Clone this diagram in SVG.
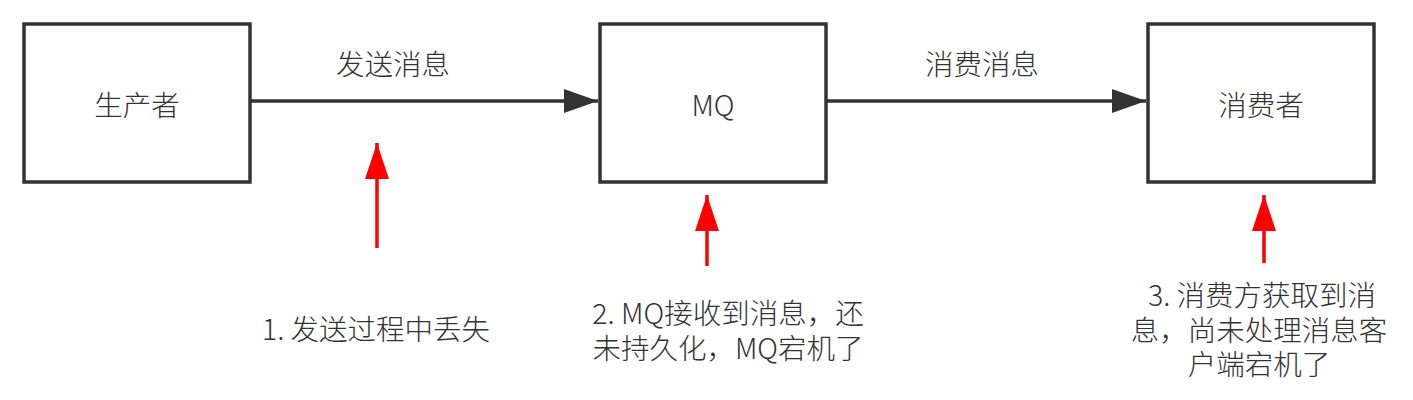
<svg xmlns="http://www.w3.org/2000/svg" width="1413" height="400" viewBox="0 0 1413 400">
<defs>
<style>
.box{fill:#fff;stroke:#333;stroke-width:3.5}
.t{font-family:"Noto Sans CJK SC","Noto Sans",sans-serif;font-size:28.5px;font-weight:300;fill:#333;text-anchor:middle;dominant-baseline:central}
.conn{stroke:#333;stroke-width:3.5;fill:none}
.red{stroke:#ff0000;stroke-width:3.5;fill:none}
</style>
<marker id="ah" viewBox="0 0 34 24" refX="34" refY="12" markerWidth="34" markerHeight="24" markerUnits="userSpaceOnUse" orient="auto">
<path d="M0,0 L34,12 L0,24 Z" fill="#333"/>
</marker>
<marker id="rh" viewBox="0 0 36 24" refX="36" refY="12" markerWidth="36" markerHeight="24" markerUnits="userSpaceOnUse" orient="auto">
<path d="M0,0 L36,12 L0,24 Z" fill="#ff0000"/>
</marker>
</defs>
<rect width="1413" height="400" fill="#fff"/>
<g id="producer">
<rect class="box" x="24" y="24" width="226" height="158"/>
<text class="t" x="137" y="103">生产者</text>
</g>
<g id="mq">
<rect class="box" x="600" y="24" width="226" height="158"/>
<text class="t" x="713" y="103">MQ</text>
</g>
<g id="consumer">
<rect class="box" x="1148" y="24" width="226" height="158"/>
<text class="t" x="1261" y="103">消费者</text>
</g>
<g id="connectors">
<line class="conn" x1="250" y1="101" x2="598" y2="101" marker-end="url(#ah)"/>
<text class="t" x="393" y="62">发送消息</text>
<line class="conn" x1="826" y1="101" x2="1146" y2="101" marker-end="url(#ah)"/>
<text class="t" x="982" y="62">消费消息</text>
<line class="red" x1="377" y1="248" x2="377" y2="143" marker-end="url(#rh)"/>
<line class="red" x1="707" y1="266" x2="707" y2="195" marker-end="url(#rh)"/>
<line class="red" x1="1264" y1="263" x2="1264" y2="195" marker-end="url(#rh)"/>
</g>
<g id="note1">
<text class="t" x="376" y="327">1. 发送过程中丢失</text>
</g>
<g id="note2">
<text class="t" x="728" y="311">2. MQ接收到消息，还</text>
<text class="t" x="728" y="346">未持久化，MQ宕机了</text>
</g>
<g id="note3">
<text class="t" x="1262" y="293">3. 消费方获取到消</text>
<text class="t" x="1259" y="328">息，尚未处理消息客</text>
<text class="t" x="1259" y="362">户端宕机了</text>
</g>
</svg>
